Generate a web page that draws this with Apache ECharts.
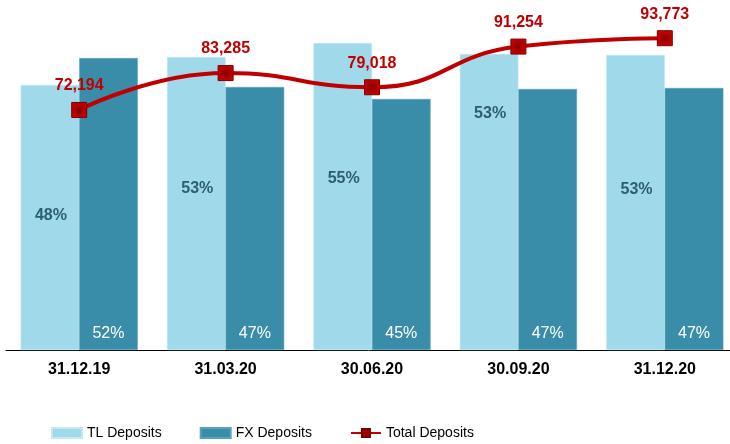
<!DOCTYPE html>
<html>
<head>
<meta charset="utf-8">
<style>
  html, body { margin: 0; padding: 0; background: #fff; }
  #chart { width: 730px; height: 444px; }
</style>
<script src="https://cdn.jsdelivr.net/npm/echarts@6.0.0/dist/echarts.min.js"></script>
</head>
<body>
<div id="chart"></div>
<script>
// data
const categories = ['31.12.19', '31.03.20', '30.06.20', '30.09.20', '31.12.20']
const totalDeposits = [72194, 83285, 79018, 91254, 93773]
// bar heights, estimated on the same scale as the total line
const tlDeposits = [79700, 88100, 92300, 89000, 88700]
const fxDeposits = [87800, 79100, 75500, 78500, 78800]
const tlShare = ['48%', '53%', '55%', '53%', '53%']
const fxShare = ['52%', '47%', '45%', '47%', '47%']

// vertical nudges for the TL share labels (they float at different heights)
const tlLabelShift = [-2, -15, -18, -88, -13]

const chart = echarts.init(document.getElementById('chart'))

const option = {
  animation: false,
  backgroundColor: '#fff',
  grid: {
    left: 6,
    right: -8,
    top: 17.5,
    bottom: 94,
    outerBoundsMode: 'none',
    containLabel: false,
  },
  xAxis: {
    type: 'category',
    data: categories,
    axisLine: { lineStyle: { color: '#000', width: 1 } },
    axisTick: { show: false },
    axisLabel: {
      margin: 12,
      color: '#000',
      fontFamily: 'Arial, "Liberation Sans", sans-serif',
      fontWeight: 'bold',
      fontSize: 16,
    },
  },
  yAxis: {
    type: 'value',
    min: 0,
    max: 100000,
    show: false,
  },
  legend: {
    left: 46,
    top: 421,
    itemWidth: 30,
    itemHeight: 10,
    itemGap: 38,
    textStyle: {
      color: '#000',
      fontFamily: 'Arial, "Liberation Sans", sans-serif',
      fontSize: 14,
    },
    data: [
      { name: 'TL Deposits', icon: 'rect' },
      { name: 'FX Deposits', icon: 'rect' },
      'Total Deposits',
    ],
  },
  series: [
    {
      name: 'TL Deposits',
      type: 'bar',
      barGap: '0%',
      barCategoryGap: '20%',
      itemStyle: { color: '#a0d9ea', borderColor: '#c4e8f2', borderWidth: 0.5 },
      data: tlDeposits.map((v, i) => ({
        value: v,
        label: { offset: [1, tlLabelShift[i]] },
      })),
      label: {
        show: true,
        position: 'inside',
        formatter: (p) => tlShare[p.dataIndex],
        color: '#2d5e70',
        fontFamily: 'Arial, "Liberation Sans", sans-serif',
        fontWeight: 'bold',
        fontSize: 16,
      },
    },
    {
      name: 'FX Deposits',
      type: 'bar',
      itemStyle: { color: '#3a8da8', borderColor: '#5aa2b8', borderWidth: 0.5 },
      data: fxDeposits,
      label: {
        show: true,
        position: 'insideBottom',
        distance: 8,
        formatter: (p) => fxShare[p.dataIndex],
        color: '#fff',
        fontFamily: 'Arial, "Liberation Sans", sans-serif',
        fontSize: 16,
      },
    },
    {
      name: 'Total Deposits',
      type: 'line',
      smooth: true,
      data: totalDeposits,
      symbol: 'rect',
      symbolSize: 15,
      z: 5,
      lineStyle: { color: '#c00000', width: 4 },
      itemStyle: {
        color: new echarts.graphic.RadialGradient(0.5, 0.5, 0.7, [
          { offset: 0, color: '#8a0000' },
          { offset: 1, color: '#e00000' },
        ]),
        borderColor: '#7a0000',
        borderWidth: 1,
      },
      label: {
        show: true,
        position: 'top',
        distance: 8,
        color: '#c00000',
        fontFamily: 'Arial, "Liberation Sans", sans-serif',
        fontWeight: 'bold',
        fontSize: 16,
        formatter: (p) => p.value.toLocaleString('en-US'),
      },
    },
  ],
}

chart.setOption(option)
window.addEventListener('resize', () => chart.resize())
</script>
</body>
</html>
